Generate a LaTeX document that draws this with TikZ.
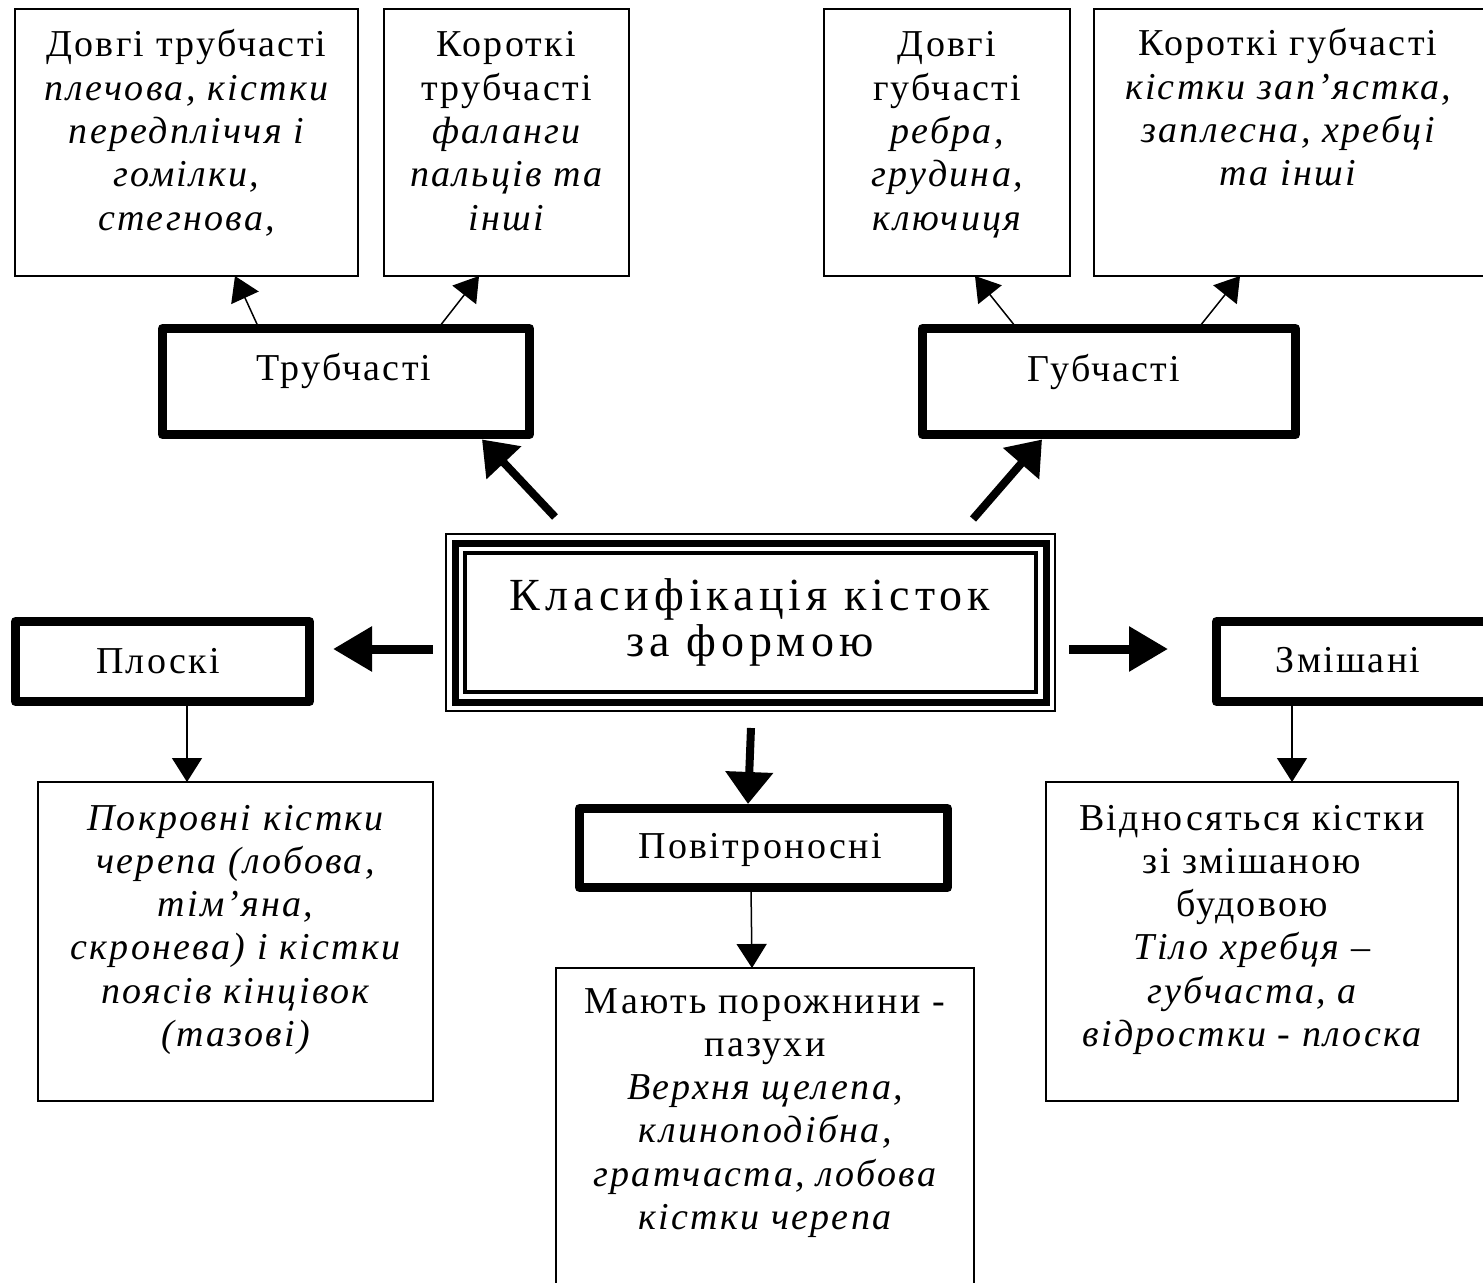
\documentclass[tikz,border=0pt]{standalone}
\usepackage{fontspec}
\setmainfont{Liberation Serif}[LetterSpace=6]
\newfontfamily\titlefont{Liberation Serif}[LetterSpace=11]
\usetikzlibrary{calc,arrows.meta}
\newcommand{\bodysize}{\fontsize{19pt}{21.65pt}\selectfont}
\newcommand{\titlesize}{\fontsize{23pt}{23pt}\selectfont}
\newcommand{\txt}[2]{\parbox[t]{#1}{\centering\bodysize #2}}
\begin{document}
\begin{tikzpicture}[x=0.5pt,y=-0.5pt,
  thinbox/.style={draw, line width=1pt, inner sep=0pt, outer sep=0pt},
  thickbox/.style={draw, line width=4.5pt, line join=round, inner sep=0pt, outer sep=0pt},
  lbl/.style={anchor=base, inner sep=0pt, outer sep=0pt},
  thinarrow/.style={line width=0.75pt, -{Triangle[length=12pt,width=15pt]}},
  thickarrow/.style={line width=4pt, -{Triangle[length=16pt,width=23pt]}},
  harrow/.style={line width=4.5pt, -{Triangle[length=19.5pt,width=21.5pt]}}]
\useasboundingbox (0,0) rectangle (1483,1283);
\fill[white] (0,0) rectangle (1483,1283);
\clip (0,0) rectangle (1483,1283);

% top boxes
\node[thinbox, minimum width=171.5pt, minimum height=133.5pt] (A) at (186.5,142.5) {};
\node[thinbox, minimum width=122.5pt, minimum height=133.5pt] (B) at (506.5,142.5) {};
\node[thinbox, minimum width=123pt, minimum height=133.5pt] (C) at (947,142.5) {};
\node[thinbox, minimum width=196pt, minimum height=133.5pt] (D) at (1290,142.5) {};

% second row
\node[thickbox, minimum width=183.5pt, minimum height=53pt] (tr) at (346,381.5) {};
\node[thickbox, minimum width=186.5pt, minimum height=53pt] (gub) at (1109,381.5) {};

% title box (triple border)
\node[draw, line width=1pt, inner sep=0pt, outer sep=0pt, minimum width=304.5pt, minimum height=88.5pt] (title) at (750.5,622.5) {};
\node[draw, line width=3.5pt, inner sep=0pt, outer sep=0pt, minimum width=295.5pt, minimum height=79.5pt] (titlemid) at (750.5,622.5) {};
\node[draw, line width=2pt, inner sep=0pt, outer sep=0pt, minimum width=285.5pt, minimum height=69.5pt] (titlein) at (750.5,622.5) {};

% middle row
\node[thickbox, minimum width=147pt, minimum height=40pt] (plo) at (162.5,661.5) {};
\node[thickbox, minimum width=136.5pt, minimum height=40pt] (zm) at (1353,661.5) {};
\node[thickbox, minimum width=184pt, minimum height=39.5pt] (pov) at (763.5,848) {};

% bottom boxes
\node[thinbox, minimum width=197.5pt, minimum height=159.5pt] (pdesc) at (235.5,941.5) {};
\node[thinbox, minimum width=206pt, minimum height=159.5pt] (zdesc) at (1252,941.5) {};
\node[thinbox, minimum width=209pt, minimum height=161pt] (vdesc) at (765,1129) {};

% texts
\node[lbl] (tA) at (186.5,57) {\txt{250pt}{Довгі трубчасті\\\itshape плечова, кістки\\передпліччя і\\гомілки,\\стегнова,}};
\node[lbl] (tB) at (506.5,57) {\txt{250pt}{Короткі\\трубчасті\\\itshape фаланги\\пальців та\\інші}};
\node[lbl] (tC) at (947,57) {\txt{250pt}{Довгі\\губчасті\\\itshape ребра,\\грудина,\\ключиця}};
\node[lbl] (tD) at (1288,56) {\txt{250pt}{Короткі губчасті\\\itshape кістки зап’ястка,\\заплесна, хребці\\та інші}};

\node[lbl] (tTr) at (344,381) {\bodysize Трубчасті};
\node[lbl] (tGub) at (1104,382) {\bodysize Губчасті};
\node[lbl] (tPlo) at (158,673) {\bodysize Плоскі};
\node[lbl] (tZm) at (1348,672) {\bodysize Змішані};
\node[lbl] (tPov) at (760,858) {\bodysize Повітроносні};

\node[lbl] (tTitle) at (750,610) {\parbox[t]{300pt}{\centering\titlefont\titlesize Класифікація кісток\\за формою}};

\node[lbl] (tPdesc) at (235.5,830) {\txt{250pt}{\itshape Покровні кістки\\черепа (лобова,\\тім’яна,\\скронева) і кістки\\поясів кінцівок\\(тазові)}};
\node[lbl] (tVdesc) at (765,1013) {\txt{250pt}{Мають порожнини -\\пазухи\\\itshape Верхня щелепа,\\клиноподібна,\\гратчаста, лобова\\кістки черепа}};
\node[lbl] (tZdesc) at (1252,830) {\txt{250pt}{Відносяться кістки\\зі змішаною\\будовою\\\itshape Тіло хребця –\\губчаста, а\\відростки - плоска}};

% thin arrows
\draw[thinarrow] ($(tr.north)+(-87,0)$) -- ($(A.south)+(48.5,0)$);
\draw[thinarrow] ($(tr.north)+(92,0)$) -- ($(B.south)+(-27.5,0)$);
\draw[thinarrow] ($(gub.north)+(-92,0)$) -- ($(C.south)+(28,0)$);
\draw[thinarrow] ($(gub.north)+(89,0)$) -- ($(D.south)+(-50,0)$);
\draw[thinarrow] ($(plo.south)+(24.5,0)$) -- ($(pdesc.north)+(-48.5,0)$);
\draw[thinarrow] ($(zm.south)+(-61,0)$) -- ($(zdesc.north)+(40,0)$);
\draw[thinarrow] ($(pov.south)+(-12.5,0)$) -- ($(vdesc.north)+(-13,0)$);

% thick arrows
\draw[thickarrow] ($(title.north)+(-195.5,-17)$) -- ($(tr.south)+(136,5)$);
\draw[thickarrow] ($(title.north)+(222.5,-15)$) -- ($(gub.south)+(-67,5)$);
\draw[harrow] ($(title.west)+(-13,26.5)$) -- ($(plo.east)+(23.5,-12.5)$);
\draw[harrow] ($(title.east)+(14,26.5)$) -- ($(zm.west)+(-48.5,-12.5)$);
\draw[thickarrow] ($(title.south)+(0.5,17)$) -- ($(pov.north)+(-15.5,-4.5)$);
\end{tikzpicture}
\end{document}
